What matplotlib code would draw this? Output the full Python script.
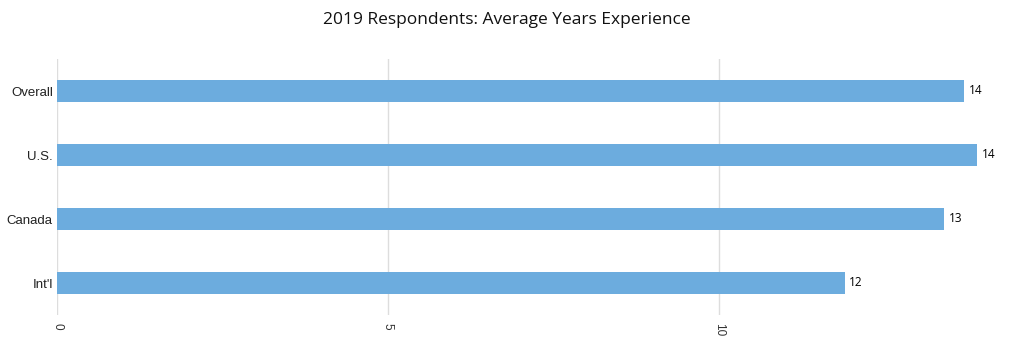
import numpy as np
import matplotlib.pyplot as plt

categories = ['Overall', 'U.S.', 'Canada', "Int'l"]
values = [13.7, 13.9, 13.4, 11.9]
value_labels = ['14', '14', '13', '12']
xticks = [0, 5, 10]

fig = plt.figure(figsize=(10.13, 3.44), dpi=100)
ax = fig.add_axes([57 / 1013, 29 / 344, 920 / 1013, 256 / 344])

y = np.arange(len(categories))
ax.barh(y, values, height=0.34, color='#6cacde', zorder=2)
ax.set_ylim(len(categories) - 0.5, -0.5)
ax.set_xlim(0, max(values))

for yi, v, lab in zip(y, values, value_labels):
    ax.text(v + 0.07, yi, lab, va='center', ha='left', fontsize=8.5,
            family='Open Sans', color='#000000')

ax.set_yticks(y)
ax.set_yticklabels(categories, family='Liberation Sans', fontsize=9.5, color='#222222')
ax.set_xticks(xticks)
ax.set_xticklabels([str(t) for t in xticks], rotation=-90, fontsize=8.5,
                   family='Liberation Sans', color='#333333')
ax.tick_params(axis='both', length=0)
ax.tick_params(axis='x', pad=6)
ax.tick_params(axis='y', pad=3)
ax.grid(axis='x', color='#dddddd', linewidth=1, zorder=0)
for s in ax.spines.values():
    s.set_visible(False)

fig.text(0.5, 1 - 20 / 344, '2019 Respondents: Average Years Experience', ha='center',
         va='center', fontsize=12.5, family='Open Sans', color='#111111')

fig.savefig('out.png', dpi=100)
